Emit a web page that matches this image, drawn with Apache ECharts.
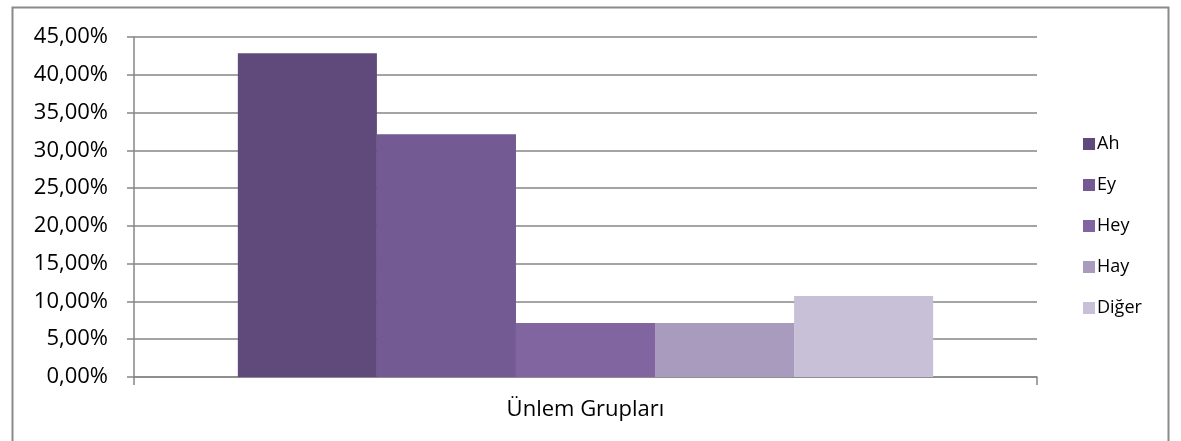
<!DOCTYPE html>
<html lang="tr">
<head>
    <meta charset="UTF-8">
    <title>Ünlem Grupları</title>
    <script src="https://cdn.jsdelivr.net/npm/echarts@6/dist/echarts.min.js"></script>
    <style>
        html, body { margin: 0; padding: 0; background: #fff; }
        #chart { width: 1181px; height: 441px; }
    </style>
</head>
<body>
<div id="chart"></div>
<script>
    // veriler
    const categories = ['Ünlem Grupları'];
    const seriesNames = ['Ah', 'Ey', 'Hey', 'Hay', 'Diğer'];
    const seriesValues = [42.86, 32.14, 7.14, 7.14, 10.71];
    const seriesColors = ['#604a7b', '#735a92', '#8065a1', '#a99bbd', '#c8c0d6'];
    const yTicks = { min: 0, max: 45, interval: 5 };

    const font = '"Open Sans", "Noto Sans", sans-serif';
    const chart = echarts.init(document.getElementById('chart'));

    const option = {
        animation: false,
        textStyle: { fontFamily: font },
        // dış çerçeve (alt kenar görüntünün dışında kalıyor)
        graphic: [{
            type: 'rect',
            shape: { x: 12.5, y: 7.5, width: 1156, height: 450 },
            style: { fill: 'none', stroke: '#8a8a8a', lineWidth: 2 },
            z: -1
        }],
        grid: { left: 134, right: 144, top: 37, bottom: 64 },
        legend: {
            orient: 'vertical',
            left: 1078,
            top: 130,
            itemWidth: 12,
            itemHeight: 12,
            itemGap: 23,
            icon: 'rect',
            textStyle: { fontSize: 18, color: '#000', fontFamily: font, padding: [0, 0, 0, -3] },
            data: seriesNames
        },
        xAxis: {
            type: 'category',
            data: categories,
            axisLine: { lineStyle: { color: '#868686', width: 1.5 } },
            axisTick: { show: true, length: 8, lineStyle: { color: '#868686', width: 1.5 } },
            axisLabel: { fontSize: 22, color: '#000', margin: 22 }
        },
        yAxis: {
            type: 'value',
            min: yTicks.min,
            max: yTicks.max,
            interval: yTicks.interval,
            axisLine: { show: true, lineStyle: { color: '#868686', width: 1.5 } },
            axisTick: { show: true, length: 7, lineStyle: { color: '#868686', width: 1.5 } },
            splitLine: { lineStyle: { color: '#868686', width: 1.5 } },
            axisLabel: {
                fontSize: 22,
                color: '#000',
                margin: 26,
                formatter: v => v.toFixed(2).replace('.', ',') + '%'
            }
        },
        series: seriesNames.map((name, i) => ({
            name: name,
            type: 'bar',
            data: [seriesValues[i]],
            barGap: '0%',
            barCategoryGap: '23%',
            itemStyle: { color: seriesColors[i] }
        }))
    };

    chart.setOption(option);
</script>
</body>
</html>
